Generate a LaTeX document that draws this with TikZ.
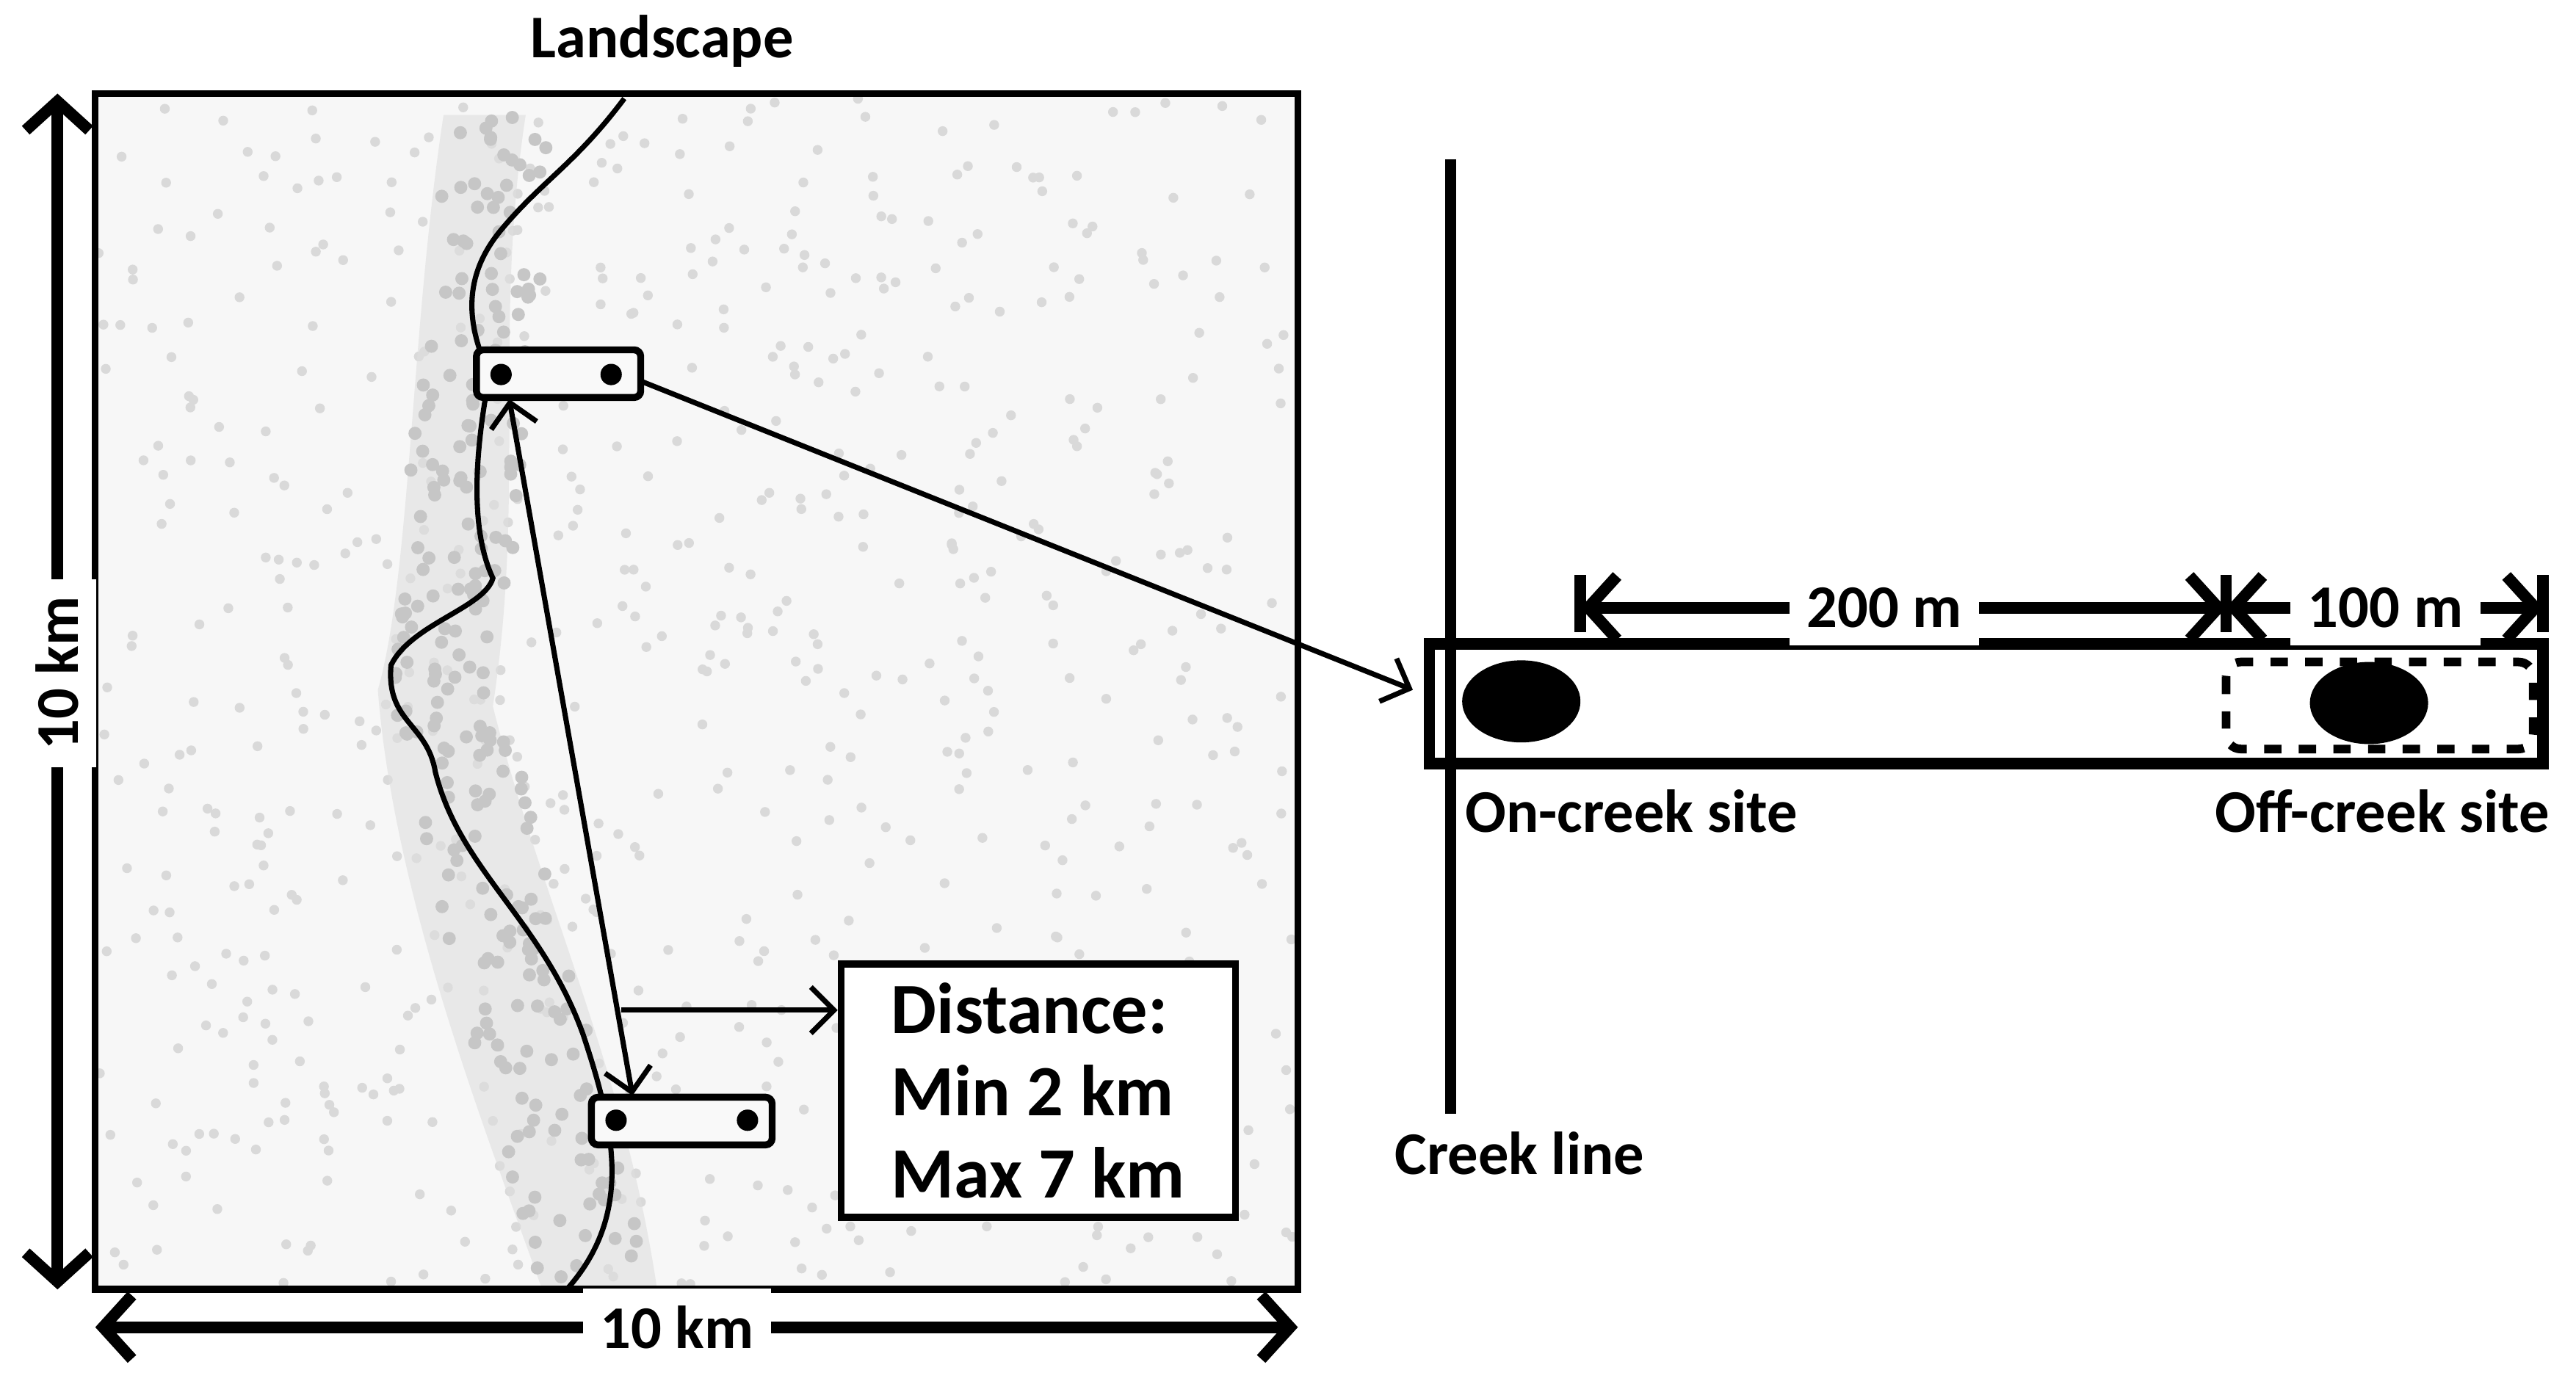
\documentclass[tikz,border=0pt]{standalone}
\usepackage{fontspec}
\setmainfont{Carlito}
\usetikzlibrary{arrows.meta}
\begin{document}
\begin{tikzpicture}[x=0.1mm,y=-0.1mm,
  lbl/.style={font=\fontsize{10.5}{12}\selectfont\bfseries, inner sep=1pt},
  dim/.style={line width=2pt, {Straight Barb[length=5pt,width=11pt]}-{Straight Barb[length=5pt,width=11pt]}},
  thin arr/.style={line width=0.9pt, -{Straight Barb[length=4pt,width=8pt]}},
  dot/.style={circle, fill=black, inner sep=0pt, minimum size=1.3mm}]
\useasboundingbox (0,0) rectangle (1568,849);
% map
\fill[gray!6] (58,57) rectangle (790,785);
\pgfmathsetseed{7}
\foreach \i in {1,...,700}{
  \pgfmathsetmacro{\px}{60+rnd*728}
  \pgfmathsetmacro{\py}{60+rnd*722}
  \fill[gray!30] (\px,\py) circle (3);
}
\fill[gray!25, opacity=0.6] (270,70) .. controls (250,200) and (250,350) .. (230,420) .. controls (240,550) and (300,700) .. (330,785) -- (400,785) .. controls (380,650) and (330,550) .. (300,430) .. controls (320,300) and (300,200) .. (320,70) -- cycle;
\foreach \i in {1,...,250}{
  \pgfmathsetmacro{\py}{70+rnd*710}
  \pgfmathsetmacro{\px}{(\py<420 ? 270-(\py-70)*0.1 : 235+(\py-420)*0.25)+rnd*70}
  \fill[gray!45] (\px,\py) circle (4);
}
\draw[line width=1.2pt] (58,57) rectangle (790,785);
\node[lbl] (title) at (403,25) {Landscape};
% creek
\draw[line width=0.9pt] (380,60) .. controls (350,100) and (330,110) .. (305,140) .. controls (280,170) and (285,200) .. (298,228) .. controls (290,270) and (285,320) .. (300,352) .. controls (295,370) and (250,380) .. (238,405) .. controls (235,440) and (260,440) .. (265,470) .. controls (280,530) and (330,560) .. (355,630) .. controls (375,690) and (385,740) .. (345,785);
% boxes
\draw[line width=1.2pt, rounded corners=0.4mm, fill=gray!5] (290,213) rectangle (390,242);
\node[dot] at (305,228) {}; \node[dot] at (372,228) {};
\coordinate (tb) at (390,232);
\draw[line width=1.2pt, rounded corners=0.4mm, fill=gray!5] (360,668) rectangle (470,697);
\node[dot] at (375,682) {}; \node[dot] at (455,682) {};
\coordinate (ta) at (310,243); \coordinate (ba) at (385,667);
\draw[line width=0.9pt, {Straight Barb[length=4pt,width=8pt]}-{Straight Barb[length=4pt,width=8pt]}] (ta) -- (ba);
\node[draw, line width=1.2pt, fill=white, minimum width=24mm, minimum height=14.8mm, align=left,
  font=\fontsize{12.5}{14.2}\selectfont\bfseries] (dist) at (632,664) {Distance:\\Min 2 km\\Max 7 km};
\coordinate (dm) at (378,615);
\draw[thin arr] (dm) -- (dm -| dist.west);
% dimension arrows
\coordinate (l1) at (35,57); \coordinate (l2) at (35,785);
\draw[dim] (l1) -- (l2);
\node[lbl, fill=white, rotate=90, inner sep=3pt] at (35,410) {10 km};
\coordinate (b1) at (58,808); \coordinate (b2) at (790,808);
\draw[dim] (b1) -- (b2);
\node[lbl, fill=white, inner sep=3pt] at (412,808) {10 km};
% right part
\coordinate (c1) at (883,97); \coordinate (c2) at (883,678);
\draw[line width=2pt] (c1) -- (c2);
\node[lbl] at (925,702) {Creek line};
\draw[line width=2pt, fill=white] (870,392) rectangle (1548,465);
\draw[thin arr] (tb) -- (860,420);
\draw[line width=2pt] (883,392) -- (883,465);
\fill (926,427) ellipse (36 and 25);
\draw[line width=1.5pt, dashed, rounded corners=0.9mm] (1355,403) rectangle (1542,456);
\fill (1442,428) ellipse (36 and 25);
\foreach \x in {962,1355,1548} \draw[line width=2pt] (\x,350) -- (\x,385);
\draw[dim] (962,370) -- (1355,370);
\node[lbl, fill=white, inner sep=3pt] at (1147,370) {200 m};
\draw[dim] (1355,370) -- (1548,370);
\node[lbl, fill=white, inner sep=3pt] at (1452,370) {100 m};
\node[lbl] at (993,494) {On-creek site};
\node[lbl] at (1450,494) {Off-creek site};
\end{tikzpicture}
\end{document}
